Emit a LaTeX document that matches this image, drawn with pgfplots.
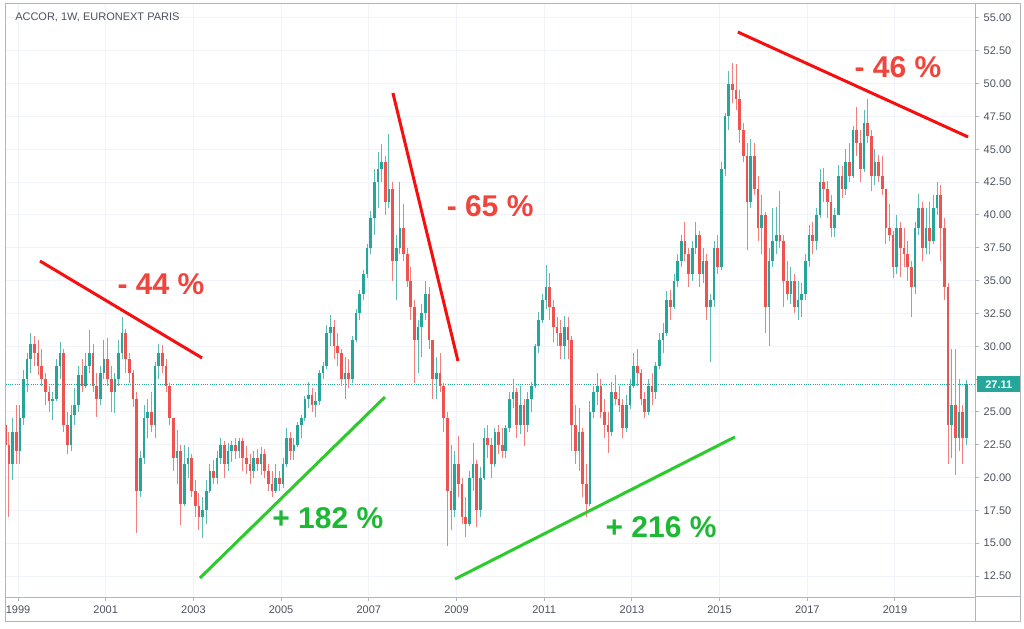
\documentclass[border=0pt]{standalone}
\usepackage{pgfplots}
\pgfplotsset{compat=1.18}
\usepackage{pgfplotstable}
\usepackage{fontspec}
\setmainfont{Liberation Sans}
\definecolor{upcol}{HTML}{26A69A}
\definecolor{downcol}{HTML}{EF5350}
\definecolor{gridcol}{HTML}{F0F3FA}
\definecolor{axcol}{HTML}{B2B5BE}
\definecolor{labcol}{HTML}{4C525E}
\definecolor{annred}{HTML}{F0443C}
\definecolor{linered}{HTML}{F70F0F}
\definecolor{anngreen}{HTML}{1DB935}
\definecolor{linegreen}{HTML}{2CCB2C}

\pgfplotstableread{
m o h l c
-4 24.0 25.2 21.5 22.5
-3 22.5 23.5 17.0 21.0
-2 21.0 24.5 19.8 23.5
-1 23.5 25.5 21.0 22.0
0 22.0 25.5 21.0 24.5
1 24.5 28.2 24.0 27.5
2 27.5 29.5 26.5 29.0
3 29.0 31.0 28.0 30.2
4 30.2 30.8 28.5 29.5
5 29.5 30.5 27.8 28.5
6 28.5 29.8 27.0 27.5
7 27.5 28.0 25.5 26.5
8 26.5 27.0 25.0 25.8
9 25.8 26.5 24.4 26.0
10 26.0 29.0 25.8 28.5
11 28.5 30.3 27.5 29.5
12 29.5 29.8 23.5 24.0
13 24.0 25.0 21.8 22.5
14 22.5 25.5 22.0 24.8
15 24.8 26.8 24.0 25.5
16 25.5 28.5 25.0 27.8
17 27.8 29.0 26.5 27.0
18 27.0 29.5 26.8 28.5
19 28.5 31.2 28.0 29.5
20 29.5 30.2 26.5 27.0
21 27.0 28.0 24.6 26.0
22 26.0 28.5 25.5 28.0
23 28.0 30.5 27.5 29.0
24 29.0 30.6 27.0 27.5
25 27.5 28.5 25.0 26.5
26 26.5 28.0 24.9 27.5
27 27.5 30.5 27.0 29.5
28 29.5 32.2 29.0 31.0
29 31.0 31.3 28.0 29.0
30 29.0 29.5 27.2 28.0
31 28.0 28.2 25.4 26.0
32 26.0 26.5 15.8 19.0
33 19.0 22.0 18.5 21.5
34 21.5 25.5 21.0 24.5
35 24.5 26.0 23.0 25.0
36 25.0 26.5 23.5 24.0
37 24.0 28.8 23.0 28.5
38 28.5 30.2 27.5 29.5
39 29.5 30.1 28.0 28.5
40 28.5 29.0 26.5 27.0
41 27.0 27.2 24.0 24.5
42 24.5 24.5 20.5 21.5
43 21.5 23.6 19.5 22.0
44 22.0 22.5 16.4 18.0
45 18.0 22.5 17.8 21.0
46 21.0 22.3 20.0 21.5
47 21.5 21.8 18.5 19.0
48 19.0 19.8 17.0 17.8
49 17.8 18.8 16.0 17.0
50 17.0 18.5 15.4 17.5
51 17.5 19.8 16.5 19.0
52 19.0 21.0 18.8 20.5
53 20.5 21.3 19.5 20.0
54 20.0 22.0 19.5 21.5
55 21.5 23.0 21.0 22.5
56 22.5 22.8 20.0 21.0
57 21.0 22.6 20.5 22.0
58 22.0 22.8 21.2 22.5
59 22.5 23.0 21.4 22.0
60 22.0 23.0 21.5 22.8
61 22.8 23.0 20.5 21.5
62 21.5 22.4 20.3 21.0
63 21.0 21.8 19.5 20.5
64 20.5 22.0 20.0 21.5
65 21.5 22.2 20.5 21.0
66 21.0 22.3 20.2 21.8
67 21.8 22.2 20.0 20.5
68 20.5 21.0 19.0 19.5
69 19.5 20.5 18.5 19.0
70 19.0 21.0 18.8 20.0
71 20.0 20.5 19.0 19.5
72 19.5 21.5 19.2 21.0
73 21.0 23.8 20.8 23.0
74 23.0 23.5 21.3 22.0
75 22.0 23.0 21.3 22.5
76 22.5 24.2 22.3 24.0
77 24.0 24.8 23.0 24.5
78 24.5 26.2 24.3 26.0
79 26.0 27.3 25.3 26.3
80 26.3 26.8 25.0 25.5
81 25.5 26.5 24.6 25.8
82 25.8 28.2 25.5 28.0
83 28.0 28.8 27.5 28.5
84 28.5 31.6 28.3 31.0
85 31.0 32.4 30.0 31.5
86 31.5 32.0 29.0 30.0
87 30.0 31.0 28.5 29.5
88 29.5 29.8 27.0 27.5
89 27.5 29.2 26.0 28.0
90 28.0 29.0 26.8 27.5
91 27.5 30.8 27.2 30.5
92 30.5 32.8 30.3 32.5
93 32.5 34.3 32.0 34.0
94 34.0 35.8 33.5 35.5
95 35.5 37.8 35.2 37.5
96 37.5 40.3 37.0 39.8
97 39.8 43.5 38.5 42.5
98 42.5 44.8 40.5 43.5
99 43.5 45.4 42.5 44.0
100 44.0 44.5 40.0 41.0
101 41.0 46.2 40.5 42.0
102 42.0 42.5 35.0 36.5
103 36.5 38.5 33.5 37.5
104 37.5 42.5 37.0 39.0
105 39.0 40.8 36.5 37.0
106 37.0 37.5 34.5 35.0
107 35.0 36.0 32.0 33.0
108 33.0 33.5 27.2 30.5
109 30.5 32.0 28.0 31.5
110 31.5 33.2 29.2 32.5
111 32.5 35.0 32.0 34.0
112 34.0 34.5 29.8 30.5
113 30.5 30.5 26.0 27.5
114 27.5 29.2 26.0 28.0
115 28.0 29.5 26.5 27.0
116 27.0 27.2 23.5 24.5
117 24.5 25.0 14.8 19.0
118 19.0 22.5 16.0 17.5
119 17.5 22.0 17.0 21.0
120 21.0 23.2 18.5 19.5
121 19.5 20.0 16.5 17.0
122 17.0 18.5 15.5 16.5
123 16.5 20.5 16.3 20.0
124 20.0 22.6 19.0 21.0
125 21.0 21.3 16.2 17.5
126 17.5 20.8 17.0 20.0
127 20.0 23.8 19.8 23.0
128 23.0 24.0 21.5 22.5
129 22.5 23.0 20.0 21.0
130 21.0 23.8 20.8 23.5
131 23.5 24.0 21.8 22.5
132 22.5 23.8 21.5 22.0
133 22.0 24.0 21.5 23.8
134 23.8 26.5 23.5 26.0
135 26.0 27.5 25.3 26.5
136 26.5 26.8 23.0 24.0
137 24.0 27.0 23.3 25.5
138 25.5 26.0 22.4 24.0
139 24.0 26.5 23.5 26.0
140 26.0 27.3 25.0 27.0
141 27.0 30.2 26.8 30.0
142 30.0 32.6 29.5 32.0
143 32.0 34.0 31.8 33.5
144 33.5 36.2 32.8 34.5
145 34.5 35.6 32.0 33.0
146 33.0 33.5 30.3 31.5
147 31.5 32.2 30.0 31.0
148 31.0 32.0 29.0 30.0
149 30.0 32.3 29.0 31.5
150 31.5 32.2 29.0 30.5
151 30.5 30.8 22.0 24.0
152 24.0 25.5 21.0 22.0
153 22.0 25.3 20.5 23.5
154 23.5 23.8 18.5 19.5
155 19.5 21.0 17.0 18.0
156 18.0 25.8 17.8 25.0
157 25.0 27.0 24.5 26.5
158 26.5 28.0 25.5 27.0
159 27.0 27.5 24.5 25.0
160 25.0 26.0 23.0 24.0
161 24.0 25.0 21.9 23.5
162 23.5 27.3 23.2 26.5
163 26.5 27.8 25.5 26.0
164 26.0 27.0 25.0 25.5
165 25.5 26.0 23.0 23.8
166 23.8 26.3 23.5 25.5
167 25.5 27.5 25.2 27.0
168 27.0 29.5 26.8 28.5
169 28.5 29.8 27.0 28.0
170 28.0 28.3 25.5 26.0
171 26.0 26.5 24.5 25.0
172 25.0 27.5 24.8 27.0
173 27.0 28.0 25.5 26.5
174 26.5 28.8 26.0 28.5
175 28.5 31.0 28.3 30.5
176 30.5 31.8 29.5 31.0
177 31.0 34.2 30.8 33.5
178 33.5 34.3 32.0 33.0
179 33.0 35.5 32.8 35.0
180 35.0 37.0 34.5 36.5
181 36.5 38.5 36.0 38.0
182 38.0 39.5 36.5 37.0
183 37.0 37.5 34.5 35.5
184 35.5 38.0 35.0 37.5
185 37.5 39.5 37.0 38.5
186 38.5 38.8 34.5 35.5
187 35.5 37.5 34.8 36.5
188 36.5 37.0 32.0 33.0
189 33.0 34.0 28.8 33.5
190 33.5 38.0 33.0 37.5
191 37.5 38.5 35.5 36.0
192 36.0 44.0 35.8 43.5
193 43.5 47.8 43.0 47.5
194 47.5 51.0 46.5 50.0
195 50.0 51.6 48.5 49.5
196 49.5 51.5 48.0 48.8
197 48.8 49.5 45.5 46.5
198 46.5 47.0 44.0 44.5
199 44.5 45.5 37.3 41.0
200 41.0 45.8 40.5 44.5
201 44.5 45.5 41.5 42.0
202 42.0 43.0 38.0 39.0
203 39.0 41.5 37.0 40.0
204 40.0 40.2 31.0 33.0
205 33.0 37.5 30.0 36.5
206 36.5 40.5 36.0 38.0
207 38.0 40.6 37.0 38.5
208 38.5 41.8 37.5 38.0
209 38.0 38.5 33.0 35.0
210 35.0 36.5 33.5 34.0
211 34.0 36.0 33.2 35.0
212 35.0 35.5 32.5 33.0
213 33.0 35.0 32.0 33.5
214 33.5 34.8 32.2 34.0
215 34.0 37.0 33.5 36.5
216 36.5 39.2 36.0 38.5
217 38.5 39.5 37.0 38.0
218 38.0 40.5 37.3 40.0
219 40.0 43.5 39.8 42.5
220 42.5 43.6 41.0 42.0
221 42.0 42.6 39.8 41.0
222 41.0 41.5 38.3 39.0
223 39.0 40.5 38.3 40.0
224 40.0 43.8 40.0 43.0
225 43.0 43.7 41.3 42.0
226 42.0 45.0 41.5 44.0
227 44.0 45.5 42.5 43.0
228 43.0 46.8 42.8 46.5
229 46.5 48.2 44.5 45.5
230 45.5 46.5 42.5 43.5
231 43.5 48.0 43.3 47.0
232 47.0 48.8 45.5 46.0
233 46.0 46.5 41.8 43.0
234 43.0 45.0 42.3 44.0
235 44.0 44.6 42.5 43.0
236 43.0 44.5 41.5 42.0
237 42.0 42.0 37.8 39.0
238 39.0 40.8 38.0 38.5
239 38.5 38.8 35.2 36.0
240 36.0 40.0 35.5 39.0
241 39.0 39.5 35.3 37.5
242 37.5 39.0 36.0 37.0
243 37.0 38.0 35.0 36.0
244 36.0 36.5 32.2 34.5
245 34.5 39.5 34.0 39.0
246 39.0 41.6 38.5 40.5
247 40.5 41.0 36.5 37.5
248 37.5 40.5 37.0 39.0
249 39.0 41.0 37.0 38.0
250 38.0 41.5 37.8 40.5
251 40.5 42.5 40.0 41.5
252 41.5 42.3 36.5 39.0
253 39.0 39.8 33.5 34.5
254 34.5 34.8 21.0 24.0
255 24.0 29.8 21.5 25.5
256 25.5 29.8 20.2 23.0
257 23.0 27.5 22.0 25.0
258 25.0 25.5 21.0 23.0
259 23.0 27.4 22.5 27.11
}\candles

\begin{document}
\begin{tikzpicture}
\path[use as bounding box] (0,0) rectangle (768pt,471pt);
\fill[white] (0,0) rectangle (768pt,471pt);
\begin{axis}[
  at={(3.75pt,23.25pt)}, anchor=south west,
  scale only axis, width=727.5pt, height=444.75pt,
  xmin=-3.56, xmax=261.9, ymin=10.903, ymax=56.066,
  clip mode=individual,
  axis line style={axcol, line width=0.75pt},
  xtick={0,24,...,240},
  xticklabels={1999,2001,2003,2005,2007,2009,2011,2013,2015,2017,2019},
  ytick={12.5,15,...,55},
  yticklabels={12.50,15.00,17.50,20.00,22.50,25.00,,30.00,32.50,35.00,37.50,40.00,42.50,45.00,47.50,50.00,52.50,55.00},
  xtick pos=bottom, ytick pos=right, yticklabel pos=right,
  tick align=outside, major tick length=3pt,
  tick style={axcol, line width=0.75pt},
  grid=major, major grid style={gridcol, line width=0.75pt},
  xticklabel style={font=\fontsize{8.25}{9}\selectfont, text=labcol},
  yticklabel style={font=\fontsize{8.25}{9}\selectfont, text=labcol},
]
% dotted last-price line
\addplot[forget plot, upcol, densely dotted, line width=0.7pt] coordinates {(-4,27.11) (262,27.11)};
% wicks
\addplot[forget plot, upcol!75, line width=0.6pt, quiver={u=0, v=\thisrow{h}-\thisrow{l}}]
  table[x expr=\thisrow{m}+0.5, y expr={\thisrow{c}>=\thisrow{o} ? \thisrow{l} : nan}] {\candles};
\addplot[forget plot, downcol!75, line width=0.6pt, quiver={u=0, v=\thisrow{h}-\thisrow{l}}]
  table[x expr=\thisrow{m}+0.5, y expr={\thisrow{c}<\thisrow{o} ? \thisrow{l} : nan}] {\candles};
% bodies
\addplot[forget plot, upcol, line width=2.0pt, quiver={u=0, v=\thisrow{c}-\thisrow{o}}]
  table[x expr=\thisrow{m}+0.5, y expr={\thisrow{c}>=\thisrow{o} ? \thisrow{o} : nan}] {\candles};
\addplot[forget plot, downcol, line width=2.0pt, quiver={u=0, v=\thisrow{c}-\thisrow{o}}]
  table[x expr=\thisrow{m}+0.5, y expr={\thisrow{c}<\thisrow{o} ? \thisrow{o} : nan}] {\candles};
% trend lines
\draw[linered, line width=2.25pt] (axis cs:6.02,36.49) -- (axis cs:50.36,29.11);
\draw[linered, line width=2.25pt] (axis cs:102.6,49.29) -- (axis cs:120.4,28.88);
\draw[linered, line width=2.25pt] (axis cs:197.0,53.93) -- (axis cs:260.0,45.94);
\draw[linegreen, line width=2.25pt] (axis cs:49.8,12.35) -- (axis cs:100.4,26.13);
\draw[linegreen, line width=2.25pt] (axis cs:119.6,12.27) -- (axis cs:196.2,23.09);
\node[text=annred, font=\fontsize{22.5}{22.5}\selectfont\bfseries] at (axis cs:39.1,34.74) {- 44 \%};
\node[text=annred, font=\fontsize{22.5}{22.5}\selectfont\bfseries] at (axis cs:129.2,40.68) {- 65 \%};
\node[text=annred, font=\fontsize{22.5}{22.5}\selectfont\bfseries] at (axis cs:240.8,51.27) {- 46 \%};
\node[text=anngreen, font=\fontsize{22.5}{22.5}\selectfont\bfseries] at (axis cs:84.8,16.92) {+ 182 \%};
\node[text=anngreen, font=\fontsize{22.5}{22.5}\selectfont\bfseries] at (axis cs:176.0,16.23) {+ 216 \%};
\coordinate (pbox) at (axis cs:262.45,27.11);
\end{axis}
% outer frame and axis extensions
\draw[axcol, line width=0.75pt] (3.75pt,5.25pt) rectangle (765pt,468pt);
\draw[axcol, line width=0.75pt] (731.25pt,5.25pt) -- (731.25pt,23.25pt) -- (765pt,23.25pt);
% last price label
\node[anchor=west, fill=upcol, text=white, inner sep=0pt, minimum width=32.25pt, minimum height=12pt,
      font=\fontsize{8.25}{9}\selectfont\bfseries] at (pbox) {27.11};
% title
\node[anchor=west, text=labcol, font=\fontsize{8.25}{9}\selectfont, inner sep=0pt] at (11.25pt,458.25pt) {ACCOR, 1W, EURONEXT PARIS};
\end{tikzpicture}
\end{document}
